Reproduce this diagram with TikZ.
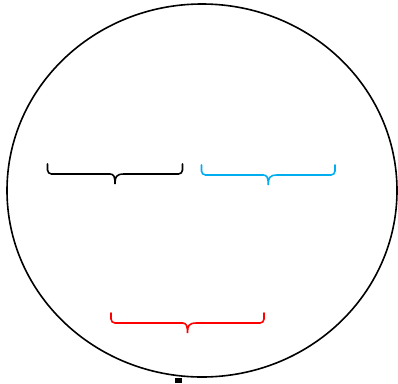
\documentclass[tikz,border=0pt]{standalone}
\usepackage{tikz}
\definecolor{braceblue}{RGB}{0,174,239}
% a brace that opens upwards: colour, left x, right x, top y
\newcommand{\upbrace}[4]{%
  \draw[bracestroke,#1] (#2,#4) [rounded corners=4pt] -- (#2,#4+10)
    -- ({(#2+#3)/2-9},#4+10) [sharp corners]
    .. controls ({(#2+#3)/2-1},#4+10) and ({(#2+#3)/2},#4+13) .. ({(#2+#3)/2},#4+20)
    .. controls ({(#2+#3)/2},#4+13) and ({(#2+#3)/2+1},#4+10) .. ({(#2+#3)/2+9},#4+10)
    [rounded corners=4pt] -- (#3,#4+10) -- (#3,#4);}

\begin{document}
\begin{tikzpicture}[x=1pt,y=-1pt,
    bracestroke/.style={line width=1.6pt,line cap=round}]
  \useasboundingbox (0,0) rectangle (398,383);
  % the whole
  \draw[line width=1.6pt] (202,190.5) ellipse (195 and 186.5);
  % the braces
  \upbrace{black}{47.5}{182.5}{164}
  \upbrace{braceblue}{201.5}{335}{165}
  \upbrace{red}{111}{264}{313}
  % cut-off mark at the bottom
  \fill (175,378) rectangle (182,383);
\end{tikzpicture}
\end{document}
